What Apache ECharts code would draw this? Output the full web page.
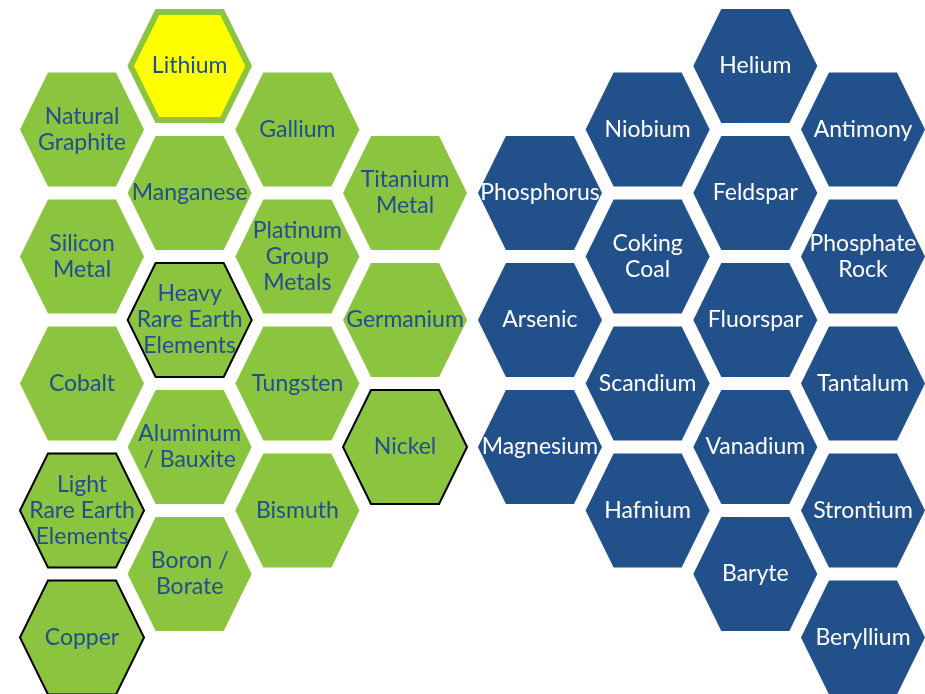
<!DOCTYPE html>
<html>
<head>
<meta charset="utf-8">
<title>Critical minerals</title>
<script src="https://cdn.jsdelivr.net/npm/echarts@6/dist/echarts.min.js"></script>
<style>
  html, body { margin: 0; padding: 0; background: #fff; }
  #chart { width: 925px; height: 694px; }
</style>
</head>
<body>
<div id="chart"></div>
<script>
// green group (cols 0-3), rows are half steps down the column
const greenNames = [
  'Natural\nGraphite', 'Silicon\nMetal', 'Cobalt', 'Light\nRare Earth\nElements', 'Copper',
  'Lithium', 'Manganese', 'Heavy\nRare Earth\nElements', 'Aluminum\n/ Bauxite', 'Boron /\nBorate',
  'Gallium', 'Platinum\nGroup\nMetals', 'Tungsten', 'Bismuth',
  'Titanium\nMetal', 'Germanium', 'Nickel'
]
const greenCols = [0, 0, 0, 0, 0, 1, 1, 1, 1, 1, 2, 2, 2, 2, 3, 3, 3]
const greenRows = [1, 3, 5, 7, 9, 0, 2, 4, 6, 8, 1, 3, 5, 7, 2, 4, 6]

// blue group (cols 4-7)
const blueNames = [
  'Phosphorus', 'Arsenic', 'Magnesium',
  'Niobium', 'Coking\nCoal', 'Scandium', 'Hafnium',
  'Helium', 'Feldspar', 'Fluorspar', 'Vanadium', 'Baryte',
  'Antimony', 'Phosphate\nRock', 'Tantalum', 'Strontium', 'Beryllium'
]
const blueCols = [4, 4, 4, 5, 5, 5, 5, 6, 6, 6, 6, 6, 7, 7, 7, 7, 7]
const blueRows = [2, 4, 6, 1, 3, 5, 7, 0, 2, 4, 6, 8, 1, 3, 5, 7, 9]

// outlined / highlighted cells
const outlined = ['Heavy\nRare Earth\nElements', 'Light\nRare Earth\nElements', 'Copper', 'Nickel']
const highlighted = ['Lithium']

const GREEN = '#8BC53F'
const BLUE = '#22508A'
const TEXT_DARK = '#234E8E'
const GROUP_GAP = 0.253 // extra space between the two clusters, in column units

// hexagon half sizes, in axis units
const HEX_R = 0.576 // centre to left/right point
const HEX_A = 0.316 // half length of the flat top
const HEX_H = 0.897 // half height (rows are half steps)

function buildData(names, cols, rows) {
  return names.map((n, i) => ({
    name: n,
    value: [cols[i] + (cols[i] >= 4 ? GROUP_GAP : 0), rows[i]]
  }))
}

function makeRender(names, fill, textColor) {
  return function(params, api) {
    const name = names[params.dataIndex]
    const c = api.coord([api.value(0), api.value(1)])
    const s = api.size([1, 1])
    let R = HEX_R * s[0]
    let A = HEX_A * s[0]
    let H = HEX_H * s[1]
    let style = { fill: fill }
    if (highlighted.indexOf(name) >= 0) {
      R -= 3; A -= 1.7; H -= 3
      style = { fill: '#FFFF00', stroke: GREEN, lineWidth: 6 }
    } else if (outlined.indexOf(name) >= 0) {
      style = { fill: fill, stroke: '#000', lineWidth: 2 }
    }
    const pts = [
      [c[0] - R, c[1]], [c[0] - A, c[1] - H], [c[0] + A, c[1] - H],
      [c[0] + R, c[1]], [c[0] + A, c[1] + H], [c[0] - A, c[1] + H]
    ]
    return {
      type: 'group',
      children: [
        { type: 'polygon', shape: { points: pts }, style: style },
        {
          type: 'text',
          x: c[0],
          y: c[1],
          style: {
            text: name,
            align: 'center',
            verticalAlign: 'middle',
            fill: textColor,
            fontFamily: 'Lato',
            fontSize: 23,
            lineHeight: 26
          }
        }
      ]
    }
  }
}

const chart = echarts.init(document.getElementById('chart'))
chart.setOption({
  animation: false,
  grid: { left: 82, right: 62, top: 66, bottom: 56.5 },
  xAxis: { type: 'value', min: 0, max: 7 + GROUP_GAP, show: false },
  yAxis: { type: 'value', min: 0, max: 9, inverse: true, show: false },
  series: [
    {
      name: 'green',
      type: 'custom',
      renderItem: makeRender(greenNames, GREEN, TEXT_DARK),
      data: buildData(greenNames, greenCols, greenRows),
      clip: false
    },
    {
      name: 'blue',
      type: 'custom',
      renderItem: makeRender(blueNames, BLUE, '#fff'),
      data: buildData(blueNames, blueCols, blueRows),
      clip: false
    }
  ]
})
</script>
</body>
</html>
